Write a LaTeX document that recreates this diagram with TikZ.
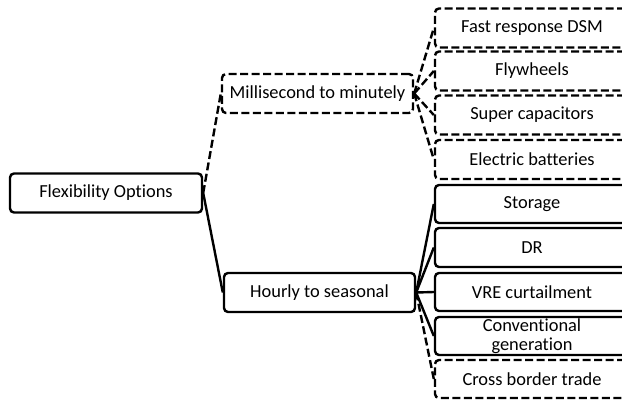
\documentclass[tikz,border=0pt]{standalone}
\usepackage{fontspec}
\setmainfont[Ligatures=NoCommon]{Carlito}
\tikzset{
  x=1pt, y=-1pt,
  box/.style={draw=black, line width=2.4pt, rounded corners=4pt, fill=white,
    align=center, inner sep=0pt, font=\fontsize{18.4}{19}\selectfont},
  dbox/.style={box, dash pattern=on 8pt off 3.5pt},
  leaf/.style={minimum width=194pt, minimum height=39pt},
  link/.style={draw=black, line width=2.4pt},
  dlink/.style={link, dash pattern=on 8pt off 3.5pt},
}
\begin{document}
\begin{tikzpicture}
\useasboundingbox (0,0) rectangle (622,400);
% root and the two time-scale groups
\node[box, minimum width=192pt, minimum height=39pt] (flex) at (106,193) {Flexibility Options};
\node[dbox, minimum width=191pt, minimum height=39pt] (ms) at (317.5,93.5) {Millisecond to minutely};
\node[box, minimum width=191pt, minimum height=39pt] (hs) at (319.5,292.5) {Hourly to seasonal};
% short time-scale options
\node[dbox, leaf] (dsm) at (532,28) {Fast response DSM};
\node[dbox, leaf] (fly) at (532,71) {Flywheels};
\node[dbox, leaf] (cap) at (532,115) {Super capacitors};
\node[dbox, leaf] (bat) at (532,159.5) {Electric batteries};
% long time-scale options
\node[box, leaf, minimum height=38pt] (sto) at (532,204) {Storage};
\node[box, leaf, minimum height=39pt] (dr) at (532,247.5) {DR};
\node[box, leaf, minimum height=38pt] (vre) at (532,292) {VRE curtailment};
\node[box, leaf, minimum height=38pt] (conv) at (532,336) {Conventional\\generation};
\node[dbox, leaf, minimum height=38pt] (cbt) at (532,379) {Cross border trade};
% connectors
\draw[dlink] (flex.east) -- (ms.west);
\draw[link] (flex.east) -- (hs.west);
\foreach \c in {dsm,fly,cap,bat}
  \draw[dlink] (ms.east) -- (\c.west);
\foreach \c in {sto,dr,vre,conv}
  \draw[link] (hs.east) -- (\c.west);
\draw[dlink] (hs.east) -- (cbt.west);
\end{tikzpicture}
\end{document}
